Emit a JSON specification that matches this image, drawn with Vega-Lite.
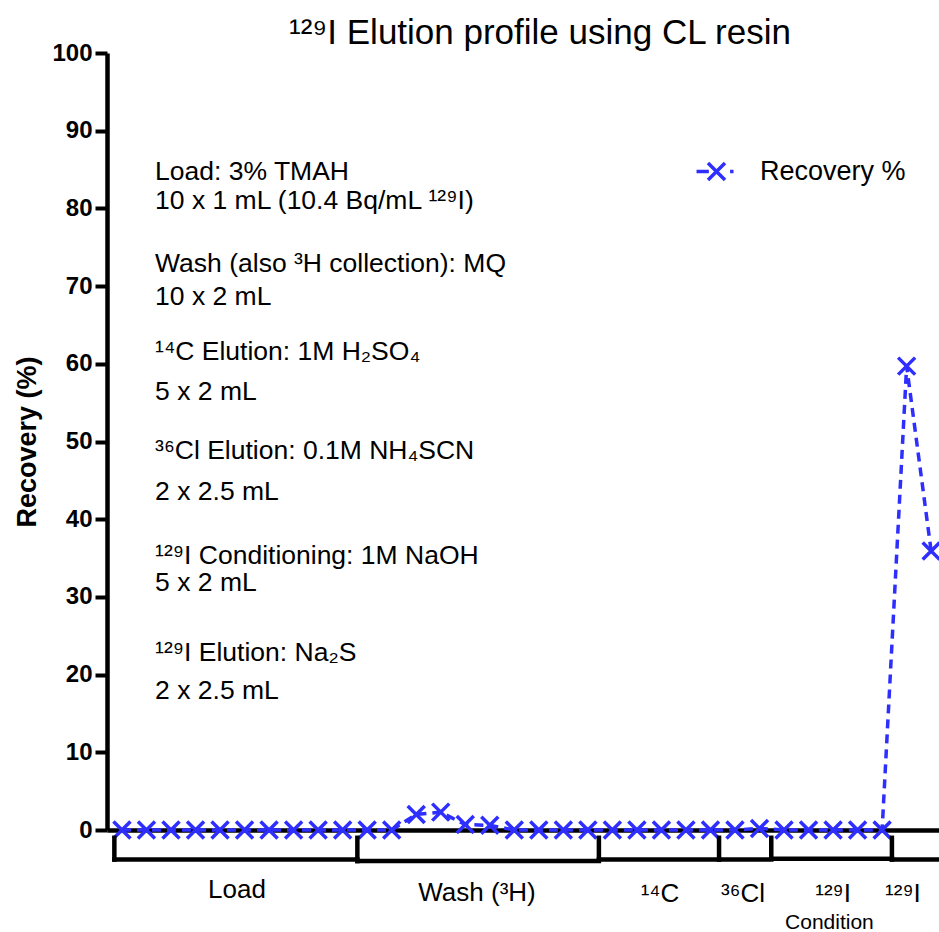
{
  "$schema": "https://vega.github.io/schema/vega-lite/v6.json",
  "width": 832,
  "height": 777,
  "autosize": {"type": "none"},
  "padding": {"left": 107, "top": 53, "right": 0, "bottom": 102},
  "title": {
    "text": "¹²⁹I Elution profile using CL resin",
    "font": "Liberation Sans",
    "fontSize": 35,
    "fontWeight": "normal",
    "color": "black",
    "anchor": "middle",
    "baseline": "alphabetic",
    "dx": 17,
    "dy": 38,
    "offset": 0
  },
  "config": {
    "view": {"stroke": null},
    "font": "Liberation Sans",
    "text": {"font": "Liberation Sans"}
  },
  "datasets": {
    "recovery": [
      {"fraction": 1, "recovery": 0, "series": "Recovery %"},
      {"fraction": 2, "recovery": 0, "series": "Recovery %"},
      {"fraction": 3, "recovery": 0, "series": "Recovery %"},
      {"fraction": 4, "recovery": 0, "series": "Recovery %"},
      {"fraction": 5, "recovery": 0, "series": "Recovery %"},
      {"fraction": 6, "recovery": 0, "series": "Recovery %"},
      {"fraction": 7, "recovery": 0, "series": "Recovery %"},
      {"fraction": 8, "recovery": 0, "series": "Recovery %"},
      {"fraction": 9, "recovery": 0, "series": "Recovery %"},
      {"fraction": 10, "recovery": 0, "series": "Recovery %"},
      {"fraction": 11, "recovery": 0, "series": "Recovery %"},
      {"fraction": 12, "recovery": 0, "series": "Recovery %"},
      {"fraction": 13, "recovery": 2.0, "series": "Recovery %"},
      {"fraction": 14, "recovery": 2.3, "series": "Recovery %"},
      {"fraction": 15, "recovery": 0.7, "series": "Recovery %"},
      {"fraction": 16, "recovery": 0.6, "series": "Recovery %"},
      {"fraction": 17, "recovery": 0, "series": "Recovery %"},
      {"fraction": 18, "recovery": 0, "series": "Recovery %"},
      {"fraction": 19, "recovery": 0, "series": "Recovery %"},
      {"fraction": 20, "recovery": 0, "series": "Recovery %"},
      {"fraction": 21, "recovery": 0, "series": "Recovery %"},
      {"fraction": 22, "recovery": 0, "series": "Recovery %"},
      {"fraction": 23, "recovery": 0, "series": "Recovery %"},
      {"fraction": 24, "recovery": 0, "series": "Recovery %"},
      {"fraction": 25, "recovery": 0, "series": "Recovery %"},
      {"fraction": 26, "recovery": 0, "series": "Recovery %"},
      {"fraction": 27, "recovery": 0.2, "series": "Recovery %"},
      {"fraction": 28, "recovery": 0, "series": "Recovery %"},
      {"fraction": 29, "recovery": 0, "series": "Recovery %"},
      {"fraction": 30, "recovery": 0, "series": "Recovery %"},
      {"fraction": 31, "recovery": 0, "series": "Recovery %"},
      {"fraction": 32, "recovery": 0, "series": "Recovery %"},
      {"fraction": 33, "recovery": 59.7, "series": "Recovery %"},
      {"fraction": 34, "recovery": 35.9, "series": "Recovery %"}
    ],
    "groups": [
      {"group": "Load", "start": 0.69, "end": 10.6, "top": -1.0, "bottom": -3.8},
      {"group": "Wash", "start": 10.6, "end": 20.45, "top": -1.0, "bottom": -4.0},
      {"group": "14C", "start": 20.45, "end": 25.35, "top": -1.0, "bottom": -3.8},
      {"group": "36Cl", "start": 25.35, "end": 27.48, "top": -1.0, "bottom": -3.8},
      {"group": "129I Condition", "start": 27.48, "end": 32.4, "top": -1.0, "bottom": -3.7},
      {"group": "129I Elution", "start": 32.4, "end": 34.6, "top": -1.0, "bottom": -3.8}
    ],
    "grouplabels": [
      {"label": "Load", "fraction": 5.69, "recovery": -8.69},
      {"label": "Wash (³H)", "fraction": 15.48, "recovery": -9.2},
      {"label": "¹⁴C", "fraction": 22.94, "recovery": -9.3},
      {"label": "³⁶Cl", "fraction": 26.33, "recovery": -9.3},
      {"label": "¹²⁹I", "fraction": 30.0, "recovery": -9.3},
      {"label": "¹²⁹I", "fraction": 32.85, "recovery": -9.3}
    ],
    "sublabels": [
      {"label": "Condition", "fraction": 29.85, "recovery": -12.8}
    ],
    "notes": [
      {"label": "Load: 3% TMAH", "fraction": 2.35, "recovery": 83.7},
      {"label": "10 x 1 mL (10.4 Bq/mL ¹²⁹I)", "fraction": 2.35, "recovery": 79.95},
      {"label": "Wash (also ³H collection): MQ", "fraction": 2.35, "recovery": 71.8},
      {"label": "10 x 2 mL", "fraction": 2.35, "recovery": 67.6},
      {"label": "¹⁴C Elution: 1M H₂SO₄", "fraction": 2.35, "recovery": 60.55},
      {"label": "5 x 2 mL", "fraction": 2.35, "recovery": 55.4},
      {"label": "³⁶Cl Elution: 0.1M NH₄SCN", "fraction": 2.35, "recovery": 47.7},
      {"label": "2 x 2.5 mL", "fraction": 2.35, "recovery": 42.5},
      {"label": "¹²⁹I Conditioning: 1M NaOH", "fraction": 2.35, "recovery": 34.2},
      {"label": "5 x 2 mL", "fraction": 2.35, "recovery": 30.7},
      {"label": "¹²⁹I Elution: Na₂S", "fraction": 2.35, "recovery": 21.7},
      {"label": "2 x 2.5 mL", "fraction": 2.35, "recovery": 16.8}
    ]
  },
  "layer": [
    {
      "data": {"name": "recovery"},
      "mark": {"type": "line", "strokeWidth": 3.5, "strokeDash": [9, 6]},
      "encoding": {
        "x": {
          "field": "fraction",
          "type": "quantitative",
          "scale": {"domain": [0.39, 34.32], "nice": false, "zero": false},
          "axis": {
            "title": null,
            "labels": false,
            "ticks": false,
            "grid": false,
            "domain": true,
            "domainColor": "black",
            "domainWidth": 4.5
          }
        },
        "y": {
          "field": "recovery",
          "type": "quantitative",
          "scale": {"domain": [0, 100], "nice": false, "zero": true},
          "axis": {
            "title": "Recovery (%)",
            "titleFont": "Liberation Sans",
            "titleFontSize": 27,
            "titleFontWeight": "bold",
            "titleColor": "black",
            "titlePadding": 10,
            "values": [0, 10, 20, 30, 40, 50, 60, 70, 80, 90, 100],
            "grid": false,
            "domain": true,
            "domainColor": "black",
            "domainWidth": 4.5,
            "ticks": true,
            "tickColor": "black",
            "tickWidth": 4,
            "tickSize": 12,
            "labelFont": "Liberation Sans",
            "labelFontSize": 24,
            "labelFontWeight": "bold",
            "labelColor": "black",
            "labelPadding": 3
          }
        },
        "color": {
          "field": "series",
          "type": "nominal",
          "scale": {"domain": ["Recovery %"], "range": ["#2e2eff"]},
          "legend": {
            "title": null,
            "orient": "none",
            "legendX": 596,
            "legendY": 105,
            "labelFont": "Liberation Sans",
            "labelFontSize": 27,
            "labelColor": "black",
            "labelOffset": 30,
            "symbolType": "M-2.35,0L-0.9,0M-1,-1L1,1M1,-1L-1,1M1.6,0L2,0",
            "symbolSize": 289,
            "symbolStrokeWidth": 3.5,
            "symbolFillColor": "transparent",
            "padding": 0
          }
        }
      }
    },
    {
      "data": {"name": "recovery"},
      "mark": {
        "type": "point",
        "shape": "M-1,-1L1,1M1,-1L-1,1",
        "filled": false,
        "size": 289,
        "strokeWidth": 3.5,
        "opacity": 1
      },
      "encoding": {
        "x": {"field": "fraction", "type": "quantitative"},
        "y": {"field": "recovery", "type": "quantitative"},
        "color": {"field": "series", "type": "nominal"}
      }
    },
    {
      "data": {"name": "groups"},
      "mark": {"type": "rule", "strokeWidth": 4.5, "color": "black", "strokeCap": "square"},
      "encoding": {
        "x": {"field": "start", "type": "quantitative"},
        "y": {"field": "top", "type": "quantitative"},
        "y2": {"field": "bottom"}
      }
    },
    {
      "data": {"name": "groups"},
      "mark": {"type": "rule", "strokeWidth": 4.5, "color": "black", "strokeCap": "square"},
      "encoding": {
        "x": {"field": "start", "type": "quantitative"},
        "x2": {"field": "end"},
        "y": {"field": "bottom", "type": "quantitative"}
      }
    },
    {
      "data": {"name": "grouplabels"},
      "mark": {"type": "text", "fontSize": 26, "align": "center", "baseline": "alphabetic", "color": "black"},
      "encoding": {
        "x": {"field": "fraction", "type": "quantitative"},
        "y": {"field": "recovery", "type": "quantitative"},
        "text": {"field": "label"}
      }
    },
    {
      "data": {"name": "sublabels"},
      "mark": {"type": "text", "fontSize": 21, "align": "center", "baseline": "alphabetic", "color": "black"},
      "encoding": {
        "x": {"field": "fraction", "type": "quantitative"},
        "y": {"field": "recovery", "type": "quantitative"},
        "text": {"field": "label"}
      }
    },
    {
      "data": {"name": "notes"},
      "mark": {"type": "text", "fontSize": 26.5, "align": "left", "baseline": "alphabetic", "color": "black"},
      "encoding": {
        "x": {"field": "fraction", "type": "quantitative"},
        "y": {"field": "recovery", "type": "quantitative"},
        "text": {"field": "label"}
      }
    }
  ]
}
